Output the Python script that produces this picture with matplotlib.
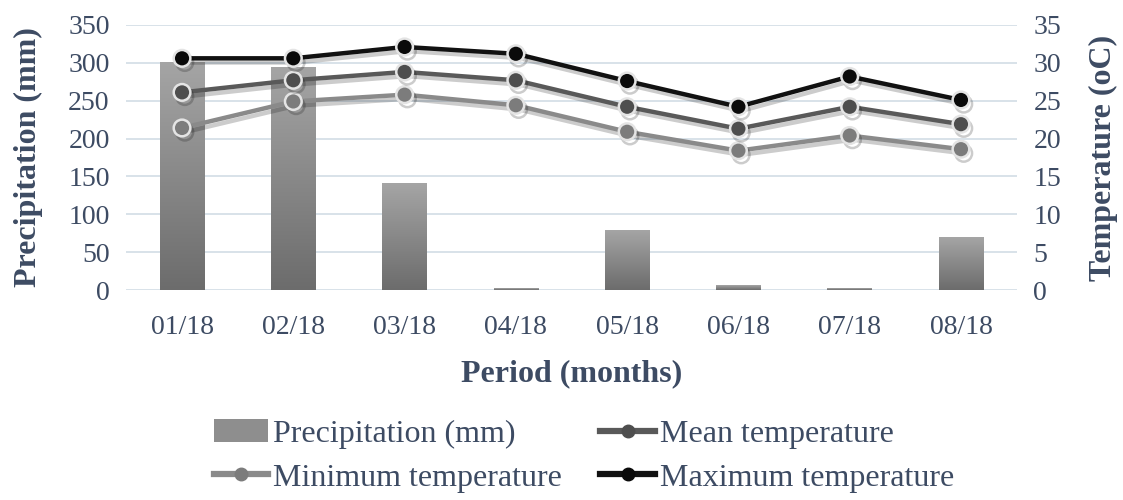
import numpy as np
import matplotlib
matplotlib.use("Agg")
import matplotlib.pyplot as plt
from matplotlib import patheffects as pe
from matplotlib.lines import Line2D
from matplotlib.patches import Patch

months = ["01/18", "02/18", "03/18", "04/18", "05/18", "06/18", "07/18", "08/18"]
precip = [301, 295, 141, 2, 79, 6, 2, 70]
t_mean = [26.1, 27.7, 28.8, 27.7, 24.2, 21.3, 24.2, 21.9]
t_min = [21.4, 24.9, 25.8, 24.4, 20.9, 18.4, 20.4, 18.6]
t_max = [30.6, 30.6, 32.1, 31.2, 27.6, 24.2, 28.2, 25.1]
left_ticks = [0, 50, 100, 150, 200, 250, 300, 350]
right_ticks = [0, 5, 10, 15, 20, 25, 30, 35]

plt.rcParams["font.family"] = ["Liberation Serif", "DejaVu Serif"]
txt = "#3d4b63"
grid_c = "#d8e2e9"

fig = plt.figure(figsize=(11.23, 5.0), dpi=100)
ax = fig.add_axes([126.4 / 1123, 1 - 290 / 500, (1016.6 - 126.4) / 1123, 265 / 500])
ax2 = ax.twinx()

x = np.arange(len(months))

ax.set_yticks(left_ticks)
ax2.set_yticks(right_ticks)
ax.yaxis.grid(True, color=grid_c, lw=1.4)
ax.set_axisbelow(True)
for a in (ax, ax2):
    for s in a.spines.values():
        s.set_visible(False)
    a.tick_params(length=0, labelsize=20, labelcolor=txt)
ax.tick_params(axis="y", pad=12)
ax2.tick_params(axis="y", pad=12)
ax.tick_params(axis="x", pad=18)
ax.set_xticks(x)
ax.set_xticklabels(months)

# Precipitation bars with a vertical grey gradient
bars = ax.bar(x, precip, width=0.4, color="none", zorder=2)
grad = np.linspace(0, 1, 256).reshape(-1, 1)
cmap = matplotlib.colors.LinearSegmentedColormap.from_list("g", ["#6c6c6c", "#a5a5a5"])
for b in bars:
    x0, y0, w, h = b.get_x(), b.get_y(), b.get_width(), b.get_height()
    if h <= 0:
        continue
    im = ax.imshow(grad, cmap=cmap, aspect="auto", origin="lower",
                   extent=(x0, x0 + w, y0, y0 + h), zorder=2)
    im.set_clip_path(b)
ax.set_xlim(-0.5, len(months) - 0.5)
ax.set_ylim(0, 350)
ax2.set_ylim(0, 35)

series = [
    (t_min, "#8a8a8a", "#7c7c7c"),
    (t_mean, "#595959", "#4e4e4e"),
    (t_max, "#111111", "#0a0a0a"),
]
for vals, lc, mc in series:
    ax2.plot(x, vals, color=lc, lw=3.2, marker="o", ms=12, mfc=mc,
             mec="#e4e4e4", mew=1.8, zorder=3,
             path_effects=[pe.SimpleLineShadow(offset=(2, -3), alpha=0.2), pe.Normal()])

ax.set_ylabel("Precipitation (mm)", fontsize=23, fontweight="bold", color=txt, labelpad=18)
ax2.set_ylabel("Temperature (oC)", fontsize=23, fontweight="bold", color=txt, labelpad=20)
ax.set_xlabel("Period (months)", fontsize=23, fontweight="bold", color=txt, labelpad=14)

h_precip = Patch(facecolor="#8e8e8e", edgecolor="none")
h_mean = Line2D([], [], color="#595959", lw=4.5, marker="o", ms=9, mfc="#4e4e4e", mec="#4e4e4e")
h_min = Line2D([], [], color="#8a8a8a", lw=4.5, marker="o", ms=9, mfc="#7c7c7c", mec="#7c7c7c")
h_max = Line2D([], [], color="#111111", lw=4.5, marker="o", ms=9, mfc="#0a0a0a", mec="#0a0a0a")
handles = [h_precip, h_min, h_mean, h_max]
labels = ["Precipitation (mm)", "Minimum temperature", "Mean temperature", "Maximum temperature"]
leg = fig.legend(handles, labels, ncol=2, loc="center", bbox_to_anchor=(0.52, 0.088),
                 frameon=False, fontsize=23, handlelength=1.7, handletextpad=0.15,
                 columnspacing=1.2, labelspacing=0.45, labelcolor=txt)

fig.savefig("out.png", dpi=100)
